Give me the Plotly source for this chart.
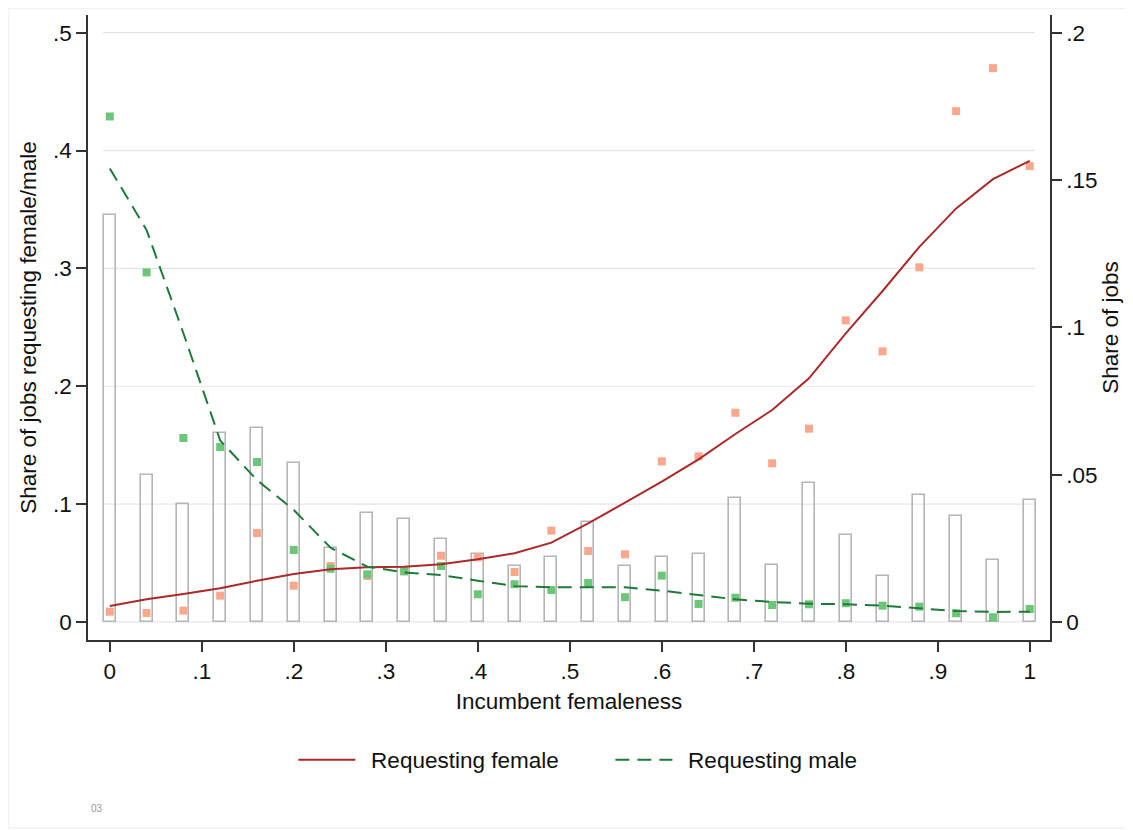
import plotly.graph_objects as go

# ---------------- data ----------------
x_bins = [0.00, 0.04, 0.08, 0.12, 0.16, 0.20, 0.24, 0.28, 0.32, 0.36, 0.40, 0.44, 0.48,
          0.52, 0.56, 0.60, 0.64, 0.68, 0.72, 0.76, 0.80, 0.84, 0.88, 0.92, 0.96, 1.00]

share_jobs = [0.138, 0.050, 0.040, 0.064, 0.066, 0.054, 0.025, 0.037, 0.035, 0.028, 0.023, 0.019, 0.022,
              0.034, 0.019, 0.022, 0.023, 0.042, 0.0195, 0.047, 0.0295, 0.0155, 0.043, 0.036, 0.021, 0.0415]

female_pts = [0.0087, 0.0076, 0.0096, 0.0223, 0.0755, 0.0308, 0.0475, 0.039, 0.043, 0.0562, 0.0549, 0.0424, 0.0775,
              0.0602, 0.0574, 0.1363, 0.1405, 0.1775, 0.1346, 0.164, 0.2559, 0.2296, 0.3009, 0.4334, 0.4699, 0.3868]

male_pts = [0.4289, 0.2966, 0.1561, 0.1484, 0.1357, 0.0611, 0.0452, 0.0404, 0.043, 0.0475, 0.0235, 0.032, 0.0271,
            0.0331, 0.021, 0.0393, 0.0153, 0.0206, 0.0144, 0.015, 0.0159, 0.0138, 0.013, 0.0074, 0.004, 0.011]

female_fit = [0.0136, 0.0192, 0.0237, 0.0286, 0.035, 0.0407, 0.0447, 0.0464, 0.0469, 0.0489, 0.0532, 0.0583, 0.0673,
              0.0837, 0.1012, 0.119, 0.138, 0.1595, 0.1798, 0.2067, 0.2449, 0.2808, 0.3183, 0.3509, 0.3757, 0.3913]

male_fit = [0.3848, 0.3325, 0.245, 0.154, 0.1204, 0.095, 0.063, 0.0469, 0.0421, 0.0398, 0.035, 0.0305, 0.0294,
            0.0294, 0.0294, 0.0266, 0.0226, 0.0192, 0.017, 0.0155, 0.015, 0.0138, 0.0116, 0.0093, 0.0085, 0.0087]

x_ticks = [0, 0.1, 0.2, 0.3, 0.4, 0.5, 0.6, 0.7, 0.8, 0.9, 1.0]
x_tick_labels = ["0", ".1", ".2", ".3", ".4", ".5", ".6", ".7", ".8", ".9", "1"]
left_ticks = [0, 0.1, 0.2, 0.3, 0.4, 0.5]
left_tick_labels = ["0", ".1", ".2", ".3", ".4", ".5"]
right_ticks = [0, 0.05, 0.1, 0.15, 0.2]
right_tick_labels = ["0", ".05", ".1", ".15", ".2"]

# ---------------- styling ----------------
FONT = "Liberation Sans, Arial, sans-serif"
FS = 22.5
TXT = "#111111"
AX = "#333333"
C_FEM_LINE = "#aa2a2a"
C_MALE_LINE = "#1e7a3a"
C_FEM_PT = "#f9a88e"
C_MALE_PT = "#6cc678"
C_BAR = "#b5b5b5"

fig = go.Figure()

# bars: share of jobs (right axis) -> primary yaxis placed on the right so they are drawn beneath
fig.add_trace(go.Bar(
    x=x_bins, y=share_jobs, width=0.013, yaxis="y",
    marker=dict(color="rgba(255,255,255,0)", line=dict(color=C_BAR, width=1.6)),
    showlegend=False, hoverinfo="x+y", name="Share of jobs"))

# scatter points (left axis)
fig.add_trace(go.Scatter(
    x=x_bins, y=female_pts, mode="markers", yaxis="y2",
    marker=dict(symbol="square", size=8, color=C_FEM_PT),
    showlegend=False, name="Female share"))
fig.add_trace(go.Scatter(
    x=x_bins, y=male_pts, mode="markers", yaxis="y2",
    marker=dict(symbol="square", size=8, color=C_MALE_PT),
    showlegend=False, name="Male share"))

# fitted lines
fig.add_trace(go.Scatter(
    x=x_bins, y=female_fit, mode="lines", yaxis="y2",
    line=dict(color=C_FEM_LINE, width=2),
    name="\u00a0\u2009Requesting female"))
fig.add_trace(go.Scatter(
    x=x_bins, y=male_fit, mode="lines", yaxis="y2",
    line=dict(color=C_MALE_LINE, width=2, dash="14px,8px"),
    name="\u00a0\u2009Requesting male"))

left_range = [-0.0153, 0.515]
right_range = [left_range[0] * 0.4, left_range[1] * 0.4]

# gridlines (Stata style, slightly inset from the plot edges)
shapes = []
for v in left_ticks:
    shapes.append(dict(type="line", xref="x", yref="y2", x0=-0.0075, x1=1.0057, y0=v, y1=v,
                       line=dict(color="#e6e6e6", width=1.2), layer="below"))
# faint outer frame (left, top, bottom edges)
shapes.append(dict(type="rect", xref="paper", yref="paper",
                   x0=-0.0826, x1=1.2, y0=-0.3008, y1=1.0104,
                   line=dict(color="#f2f2f2", width=1.5), layer="below"))

fig.update_layout(
    width=1125, height=822,
    margin=dict(l=80, r=83, t=7, b=190, autoexpand=False),
    paper_bgcolor="white", plot_bgcolor="white",
    font=dict(family=FONT, size=FS, color=TXT),
    bargap=0,
    xaxis=dict(
        range=[-0.0237, 1.022], tickvals=x_ticks, ticktext=x_tick_labels,
        showgrid=False, zeroline=False, showline=True, linecolor=AX, linewidth=1.6,
        ticks="outside", ticklen=10, tickwidth=1.6, tickcolor=AX,
        tickfont=dict(size=FS, color=TXT),
        title=dict(text="Incumbent femaleness", font=dict(size=FS, color=TXT), standoff=10),
    ),
    yaxis=dict(
        side="right", range=right_range, tickvals=right_ticks, ticktext=right_tick_labels,
        showgrid=False, zeroline=False, showline=True, linecolor=AX, linewidth=1.6,
        ticks="outside", ticklen=10, tickwidth=1.6, tickcolor=AX,
        tickfont=dict(size=FS, color=TXT),
        title=dict(text="Share of jobs", font=dict(size=FS, color=TXT), standoff=6),
    ),
    yaxis2=dict(
        side="left", overlaying="y", anchor="x", range=left_range,
        tickvals=left_ticks, ticktext=left_tick_labels,
        showgrid=False, zeroline=False, showline=True, linecolor=AX, linewidth=1.6,
        ticks="outside", ticklen=10, tickwidth=1.6, tickcolor=AX,
        tickfont=dict(size=FS, color=TXT),
        title=dict(text="Share of jobs requesting female/male", font=dict(size=FS, color=TXT), standoff=10),
    ),
    legend=dict(
        orientation="h", x=0.543, xanchor="center", y=-0.192, yanchor="middle",
        font=dict(size=FS, color=TXT), itemwidth=57, bgcolor="rgba(0,0,0,0)",
        traceorder="normal", entrywidth=245,
    ),
    shapes=shapes,
    annotations=[dict(text="03", xref="paper", yref="paper", x=0.0094, y=-0.2688,
                      xanchor="center", yanchor="middle", showarrow=False,
                      font=dict(size=10, color="#999999"))],
)

fig.write_html("out.html")
